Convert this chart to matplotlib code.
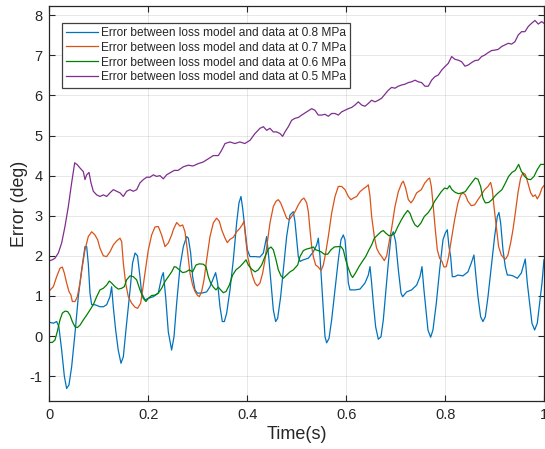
import matplotlib

matplotlib.use("Agg")
import matplotlib.pyplot as plt

matplotlib.rcParams["font.family"] = ["Liberation Sans", "DejaVu Sans"]
matplotlib.rcParams["axes.unicode_minus"] = False

# ── Data ──────────────────────────────────────────────────────────────────────
t_08 = [0, 0.0078, 0.0145, 0.019, 0.0246, 0.030, 0.0347, 0.0394, 0.0448, 0.0516,
        0.0583, 0.065, 0.0718, 0.0752, 0.0785, 0.0819, 0.0853, 0.092, 0.102, 0.109,
        0.1156, 0.1223, 0.1257, 0.129, 0.1338, 0.139, 0.1446, 0.1493, 0.156, 0.163,
        0.168, 0.173, 0.178, 0.183, 0.1864, 0.1931, 0.2, 0.21, 0.22, 0.227,
        0.2302, 0.2349, 0.2403, 0.247, 0.2518, 0.2572, 0.264, 0.2707, 0.2774, 0.2808,
        0.2855, 0.2895, 0.2943, 0.299, 0.3077, 0.3178, 0.3246, 0.3313, 0.336, 0.34,
        0.3448, 0.3495, 0.3536, 0.3583, 0.365, 0.3718, 0.3785, 0.3832, 0.3873, 0.3906,
        0.3954, 0.4001, 0.4055, 0.4156, 0.4257, 0.4325, 0.4392, 0.4439, 0.448, 0.4527,
        0.4574, 0.4614, 0.4675, 0.4729, 0.4796, 0.4864, 0.4931, 0.4965, 0.4999, 0.5032,
        0.5066, 0.5134, 0.5235, 0.5336, 0.5403, 0.5437, 0.5471, 0.5504, 0.5538, 0.5572,
        0.5605, 0.5653, 0.5706, 0.5774, 0.5841, 0.5895, 0.5942, 0.5976, 0.601, 0.6044,
        0.6077, 0.6178, 0.628, 0.638, 0.6448, 0.6482, 0.6515, 0.6549, 0.6596, 0.665,
        0.6704, 0.6751, 0.6798, 0.6852, 0.6906, 0.6953, 0.7001, 0.7055, 0.7109, 0.7142,
        0.7223, 0.7324, 0.7425, 0.7493, 0.7533, 0.7573, 0.762, 0.7654, 0.7708, 0.7755,
        0.7823, 0.789, 0.7958, 0.8005, 0.8045, 0.8079, 0.8113, 0.8146, 0.8193, 0.826,
        0.8362, 0.8463, 0.853, 0.8584, 0.8618, 0.8665, 0.8719, 0.8766, 0.8814, 0.8868,
        0.8935, 0.9002, 0.9056, 0.909, 0.9124, 0.9171, 0.9218, 0.9259, 0.9306, 0.9373,
        0.9461, 0.9542, 0.9622, 0.9663, 0.971, 0.9757, 0.9811, 0.9865, 0.9912, 0.996, 1.0]
err_08 = [0.34, 0.32, 0.36, 0.23, -0.35, -1.0, -1.31, -1.22, -0.77, 0.07,
          0.98, 1.65, 2.23, 2.23, 1.8, 1.07, 0.78, 0.78, 0.73, 0.73,
          0.78, 0.98, 1.23, 0.73, 0.15, -0.35, -0.68, -0.52, 0.32, 1.15,
          1.82, 2.07, 2.0, 1.48, 1.07, 0.9, 0.94, 0.98, 1.07, 1.48,
          1.58, 0.98, 0.1, -0.35, -0.02, 0.82, 1.73, 2.23, 2.48, 2.44,
          2.07, 1.48, 1.15, 1.07, 1.07, 1.1, 1.23, 1.44, 1.58, 1.32,
          0.73, 0.36, 0.36, 0.57, 1.15, 1.9, 2.82, 3.32, 3.48, 3.19,
          2.65, 2.15, 1.98, 1.98, 1.97, 2.07, 2.48, 1.9, 1.32, 0.65,
          0.36, 0.44, 0.98, 1.65, 2.48, 3.02, 3.1, 2.85, 2.4, 1.98,
          1.86, 1.9, 1.94, 2.1, 2.27, 2.44, 1.98, 1.32, 0.65, -0.02,
          -0.17, -0.06, 0.4, 1.15, 1.9, 2.4, 2.52, 2.4, 1.9, 1.32,
          1.15, 1.15, 1.17, 1.32, 1.52, 1.73, 1.32, 0.82, 0.23, -0.08,
          -0.02, 0.4, 1.07, 1.82, 2.48, 2.6, 2.35, 1.65, 1.07, 0.98,
          1.1, 1.15, 1.27, 1.48, 1.73, 1.15, 0.57, 0.15, -0.03, 0.15,
          0.82, 1.65, 2.4, 2.57, 2.65, 2.23, 1.98, 1.48, 1.48, 1.52,
          1.5, 1.6, 1.82, 2.02, 1.57, 0.98, 0.48, 0.36, 0.48, 0.98,
          1.73, 2.48, 2.98, 3.08, 2.82, 2.15, 1.73, 1.52, 1.52, 1.5,
          1.44, 1.57, 1.92, 1.32, 0.82, 0.32, 0.15, 0.32, 0.82, 1.32, 1.9]

t_07 = [0, 0.0078, 0.0145, 0.0212, 0.026, 0.03, 0.0347, 0.0394, 0.0435, 0.0462,
        0.0516, 0.0563, 0.0617, 0.0664, 0.0718, 0.0785, 0.0853, 0.092, 0.0974, 0.1021,
        0.1089, 0.1156, 0.1223, 0.1291, 0.1358, 0.1426, 0.146, 0.1493, 0.154, 0.1594,
        0.1662, 0.1729, 0.1783, 0.1844, 0.1884, 0.1931, 0.1999, 0.2066, 0.2134, 0.2201,
        0.2268, 0.2336, 0.2403, 0.2471, 0.2504, 0.2572, 0.264, 0.2693, 0.274, 0.2788,
        0.2841, 0.2895, 0.2943, 0.299, 0.303, 0.3077, 0.3125, 0.3178, 0.3246, 0.3313,
        0.338, 0.3435, 0.3482, 0.355, 0.3596, 0.365, 0.3718, 0.3785, 0.3853, 0.3906,
        0.3933, 0.3967, 0.4008, 0.4055, 0.4109, 0.4156, 0.4203, 0.4257, 0.4311, 0.4358,
        0.4405, 0.4459, 0.4527, 0.4581, 0.4628, 0.4675, 0.4729, 0.4796, 0.485, 0.4897,
        0.4965, 0.5032, 0.51, 0.5147, 0.5201, 0.5235, 0.5268, 0.5302, 0.5336, 0.5383,
        0.5437, 0.5491, 0.5538, 0.5585, 0.5639, 0.5706, 0.5774, 0.5841, 0.5909, 0.5976,
        0.6044, 0.6097, 0.6145, 0.6212, 0.628, 0.6347, 0.6414, 0.6448, 0.6482, 0.6515,
        0.6569, 0.6616, 0.6664, 0.6718, 0.6771, 0.6819, 0.6866, 0.692, 0.6987, 0.7055,
        0.7122, 0.7156, 0.7203, 0.7257, 0.7311, 0.7358, 0.7425, 0.752, 0.7587, 0.7654,
        0.7688, 0.7722, 0.7755, 0.7803, 0.7843, 0.789, 0.7937, 0.7978, 0.8025, 0.8072,
        0.8126, 0.8193, 0.826, 0.8315, 0.8362, 0.8409, 0.8463, 0.853, 0.8598, 0.8665,
        0.8733, 0.88, 0.8868, 0.8922, 0.8955, 0.8989, 0.9036, 0.9083, 0.9137, 0.9191,
        0.9225, 0.9272, 0.9326, 0.9373, 0.9421, 0.9474, 0.9528, 0.9575, 0.9623, 0.9677,
        0.9731, 0.9778, 0.9825, 0.9865, 0.9912, 0.996, 1.0]
err_07 = [1.13, 1.23, 1.48, 1.69, 1.72, 1.57, 1.32, 1.11, 1.02, 0.86,
          0.86, 0.98, 1.32, 1.73, 2.15, 2.48, 2.6, 2.52, 2.4, 2.19,
          2.0, 1.98, 2.1, 2.27, 2.37, 2.44, 2.35, 1.82, 1.32, 0.98,
          0.82, 0.72, 0.69, 0.82, 1.15, 1.57, 2.15, 2.52, 2.72, 2.73,
          2.52, 2.23, 2.32, 2.52, 2.65, 2.83, 2.74, 2.77, 2.6, 2.15,
          1.57, 1.27, 1.11, 1.02, 0.98, 1.11, 1.4, 1.9, 2.48, 2.82,
          2.94, 2.86, 2.65, 2.44, 2.33, 2.41, 2.46, 2.6, 2.69, 2.79,
          2.86, 2.44, 1.98, 1.73, 1.48, 1.32, 1.25, 1.32, 1.57, 1.9,
          2.32, 2.82, 3.23, 3.36, 3.4, 3.32, 3.15, 2.94, 2.9, 2.98,
          3.1, 3.27, 3.4, 3.44, 3.32, 3.1, 2.65, 2.23, 1.98, 1.77,
          1.72, 1.63, 1.77, 2.07, 2.48, 3.06, 3.48, 3.73, 3.73, 3.65,
          3.48, 3.4, 3.44, 3.48, 3.6, 3.67, 3.73, 3.77, 3.48, 2.98,
          2.48, 2.19, 2.07, 1.98, 1.88, 2.0, 2.32, 2.69, 3.23, 3.6,
          3.81, 3.86, 3.69, 3.4, 3.32, 3.4, 3.57, 3.65, 3.81, 3.91,
          3.94, 3.73, 3.32, 2.65, 2.15, 1.94, 1.86, 1.72, 1.73, 1.98,
          2.4, 2.9, 3.32, 3.52, 3.57, 3.52, 3.36, 3.25, 3.27, 3.4,
          3.52, 3.65, 3.73, 3.83, 3.65, 3.23, 2.73, 2.23, 2.02, 1.94,
          1.92, 2.02, 2.32, 2.65, 3.07, 3.57, 3.94, 4.07, 4.03, 3.81,
          3.57, 3.48, 3.52, 3.42, 3.52, 3.69, 3.75]

t_06 = [0, 0.0057, 0.0111, 0.0158, 0.0212, 0.026, 0.0313, 0.0367, 0.0415, 0.0462,
        0.0516, 0.0563, 0.0617, 0.0684, 0.0752, 0.0819, 0.0886, 0.0954, 0.1021, 0.1089,
        0.1156, 0.121, 0.1257, 0.1325, 0.1392, 0.1459, 0.1513, 0.156, 0.1628, 0.1695,
        0.1763, 0.183, 0.1897, 0.1951, 0.1999, 0.2066, 0.2134, 0.2201, 0.2268, 0.2336,
        0.2403, 0.2471, 0.2524, 0.2558, 0.2626, 0.2693, 0.2761, 0.2828, 0.2895, 0.2963,
        0.303, 0.3111, 0.3165, 0.3212, 0.326, 0.3313, 0.3367, 0.3414, 0.3462, 0.3516,
        0.357, 0.3637, 0.3704, 0.3772, 0.3853, 0.392, 0.3974, 0.4021, 0.4088, 0.4156,
        0.4223, 0.429, 0.4358, 0.4426, 0.448, 0.4527, 0.4581, 0.4628, 0.4682, 0.4729,
        0.4796, 0.4864, 0.4931, 0.5019, 0.5066, 0.5134, 0.5201, 0.5268, 0.5336, 0.5383,
        0.5437, 0.5491, 0.5558, 0.5626, 0.5693, 0.576, 0.5841, 0.5895, 0.5942, 0.599,
        0.6044, 0.6097, 0.6131, 0.6192, 0.6259, 0.6327, 0.6394, 0.6461, 0.6515, 0.6569,
        0.6637, 0.6704, 0.6751, 0.6798, 0.6866, 0.6933, 0.6987, 0.7041, 0.7109, 0.7176,
        0.7243, 0.7291, 0.7338, 0.7392, 0.7446, 0.7513, 0.758, 0.7654, 0.7722, 0.7789,
        0.7856, 0.7924, 0.7991, 0.8045, 0.8092, 0.814, 0.8207, 0.8274, 0.8342, 0.8409,
        0.8477, 0.8544, 0.8611, 0.8665, 0.8719, 0.8766, 0.8814, 0.8881, 0.8948, 0.9016,
        0.9083, 0.915, 0.9218, 0.9285, 0.9353, 0.942, 0.9488, 0.9542, 0.9609, 0.9677,
        0.9731, 0.9798, 0.9865, 0.9933, 1.0]
err_06 = [-0.16, -0.16, -0.1, 0.11, 0.4, 0.57, 0.62, 0.61, 0.52, 0.36,
          0.23, 0.21, 0.27, 0.4, 0.52, 0.65, 0.78, 0.98, 1.15, 1.19,
          1.27, 1.37, 1.32, 1.23, 1.17, 1.19, 1.23, 1.4, 1.5, 1.48,
          1.4, 1.15, 0.94, 0.86, 0.94, 1.01, 1.02, 1.07, 1.19, 1.36,
          1.48, 1.6, 1.73, 1.72, 1.65, 1.58, 1.6, 1.65, 1.6, 1.77,
          1.8, 1.79, 1.73, 1.48, 1.32, 1.22, 1.15, 1.22, 1.15, 1.08,
          1.11, 1.27, 1.52, 1.65, 1.73, 1.82, 1.9, 1.77, 1.67, 1.6,
          1.65, 1.77, 1.98, 2.17, 2.22, 2.15, 1.9, 1.65, 1.5, 1.44,
          1.52, 1.6, 1.65, 1.77, 1.98, 2.13, 2.17, 2.19, 2.22, 2.15,
          2.13, 2.1, 2.04, 2.04, 2.15, 2.22, 2.23, 2.23, 2.15, 1.9,
          1.69, 1.52, 1.46, 1.58, 1.73, 1.86, 1.98, 2.15, 2.27, 2.44,
          2.52, 2.6, 2.63, 2.57, 2.5, 2.52, 2.57, 2.72, 2.88, 3.02,
          3.13, 3.06, 2.9, 2.77, 2.72, 2.82, 2.98, 3.07, 3.19, 3.36,
          3.48, 3.6, 3.69, 3.67, 3.75, 3.65, 3.58, 3.55, 3.57, 3.6,
          3.72, 3.83, 3.94, 3.91, 3.73, 3.44, 3.32, 3.33, 3.4, 3.5,
          3.58, 3.65, 3.81, 3.98, 4.08, 4.13, 4.28, 4.11, 3.98, 3.91,
          3.9, 3.98, 4.15, 4.28, 4.28]

t_05 = [0, 0.0056, 0.0111, 0.0179, 0.0246, 0.0313, 0.0381, 0.0448, 0.051, 0.0563,
        0.0617, 0.0684, 0.0718, 0.0752, 0.0799, 0.0839, 0.0886, 0.0954, 0.1021, 0.1089,
        0.1156, 0.1223, 0.1291, 0.1358, 0.1426, 0.1493, 0.156, 0.1628, 0.1695, 0.1763,
        0.183, 0.1897, 0.1965, 0.2032, 0.21, 0.2167, 0.2234, 0.2302, 0.2369, 0.2437,
        0.2524, 0.26, 0.2706, 0.2807, 0.29, 0.301, 0.311, 0.321, 0.3313, 0.3414,
        0.348, 0.355, 0.365, 0.375, 0.385, 0.395, 0.4055, 0.4156, 0.4257, 0.4325,
        0.4392, 0.4459, 0.4526, 0.4594, 0.4661, 0.4715, 0.4762, 0.483, 0.4897, 0.4965,
        0.5032, 0.51, 0.5201, 0.5302, 0.5369, 0.5436, 0.5504, 0.5571, 0.5639, 0.5706,
        0.5773, 0.5841, 0.5908, 0.5976, 0.6043, 0.611, 0.6178, 0.6245, 0.6313, 0.638,
        0.6448, 0.6515, 0.6582, 0.665, 0.6717, 0.6785, 0.6852, 0.6919, 0.6987, 0.7054,
        0.7122, 0.7189, 0.7256, 0.7324, 0.7391, 0.7459, 0.7526, 0.7593, 0.7661, 0.7728,
        0.7796, 0.7863, 0.793, 0.7998, 0.8065, 0.8133, 0.82, 0.8268, 0.8335, 0.8402,
        0.847, 0.8537, 0.8605, 0.8672, 0.8739, 0.8807, 0.8874, 0.8942, 0.9009, 0.9076,
        0.9144, 0.9211, 0.9279, 0.9346, 0.9413, 0.9481, 0.9548, 0.9615, 0.9683, 0.975,
        0.9818, 0.9885, 0.9953, 1.0]
err_05 = [1.875, 1.9, 1.94, 2.07, 2.32, 2.73, 3.23, 3.82, 4.32, 4.27,
          4.19, 4.1, 3.9, 4.02, 4.08, 3.82, 3.61, 3.52, 3.48, 3.52,
          3.48, 3.57, 3.65, 3.61, 3.57, 3.48, 3.61, 3.65, 3.61, 3.65,
          3.82, 3.9, 3.96, 3.96, 4.02, 3.98, 4.0, 3.92, 4.02, 4.07,
          4.13, 4.13, 4.22, 4.26, 4.24, 4.3, 4.34, 4.42, 4.5, 4.5,
          4.63, 4.8, 4.84, 4.8, 4.84, 4.8, 4.88, 5.05, 5.18, 5.22,
          5.13, 5.18, 5.09, 5.09, 5.05, 4.98, 5.09, 5.22, 5.38, 5.43,
          5.45, 5.51, 5.59, 5.67, 5.63, 5.51, 5.51, 5.53, 5.48, 5.55,
          5.55, 5.51, 5.59, 5.63, 5.67, 5.7, 5.76, 5.84, 5.76, 5.73,
          5.8, 5.88, 5.84, 5.88, 5.93, 6.03, 6.13, 6.2, 6.18, 6.23,
          6.26, 6.28, 6.32, 6.34, 6.38, 6.34, 6.32, 6.23, 6.23, 6.38,
          6.47, 6.51, 6.63, 6.72, 6.8, 6.97, 6.9, 6.88, 6.84, 6.73,
          6.76, 6.82, 6.87, 6.88, 6.97, 7.01, 7.07, 7.12, 7.13, 7.15,
          7.22, 7.26, 7.3, 7.28, 7.34, 7.51, 7.59, 7.59, 7.72, 7.8,
          7.87, 7.78, 7.84, 7.8]

series = [
    (t_08, err_08, "#0072BD", "Error between loss model and data at 0.8 MPa"),
    (t_07, err_07, "#D95319", "Error between loss model and data at 0.7 MPa"),
    (t_06, err_06, "#008000", "Error between loss model and data at 0.6 MPa"),
    (t_05, err_05, "#7E2F8E", "Error between loss model and data at 0.5 MPa"),
]

x_ticks = [0, 0.2, 0.4, 0.6, 0.8, 1]
x_ticklabels = ["0", "0.2", "0.4", "0.6", "0.8", "1"]
y_ticks = [-1, 0, 1, 2, 3, 4, 5, 6, 7, 8]

INK = "#262626"

# ── Figure ───────────────────────────────────────────────────────────────────
fig = plt.figure(figsize=(5.45, 4.49), dpi=100)
ax = fig.add_axes([0.0908, 0.107, 0.9073, 0.8796])

for t, e, c, lab in series:
    ax.plot(t, e, color=c, linewidth=0.9, label=lab)

ax.set_xlim(0, 1)
ax.set_ylim(-1.62, 8.23)
ax.set_xticks(x_ticks)
ax.set_xticklabels(x_ticklabels)
ax.set_yticks(y_ticks)
ax.tick_params(direction="in", top=True, right=True, length=4, width=0.8,
               colors=INK, labelsize=10.5, pad=5)
ax.grid(True, color="#262626", alpha=0.12, linewidth=0.6)
for s in ax.spines.values():
    s.set_color(INK)
    s.set_linewidth(0.9)

ax.set_xlabel("Time(s)", fontsize=13, color=INK, labelpad=3)
ax.set_ylabel("Error (deg)", fontsize=12.8, color=INK, labelpad=1)

leg = ax.legend(loc="upper left", bbox_to_anchor=(0.025, 0.958), borderaxespad=0,
                fontsize=8.6, handlelength=2.7, handletextpad=0.2, labelspacing=0.24,
                borderpad=0.35, fancybox=False, framealpha=1.0)
leg.get_frame().set_edgecolor("#404040")
leg.get_frame().set_linewidth(0.9)
for txt in leg.get_texts():
    txt.set_color(INK)

fig.savefig("out.png", dpi=100, facecolor="white")
